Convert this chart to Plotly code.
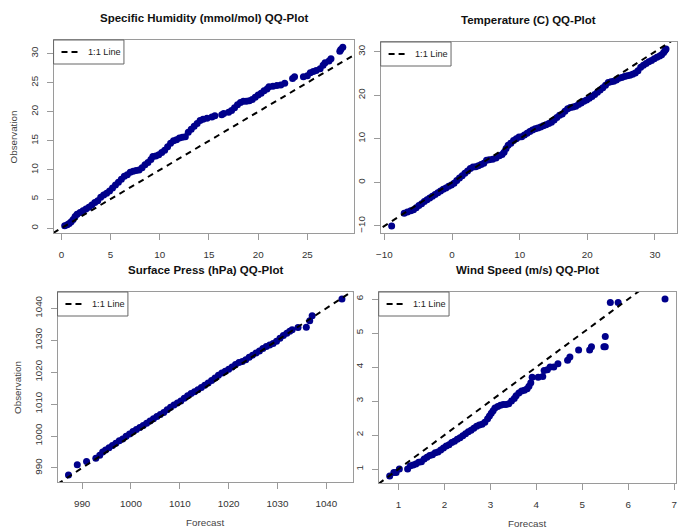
import plotly.graph_objects as go

W, H = 681, 531

# ---------------- data (quantile pairs) ----------------
hum_fc = [0.34, 0.6, 0.8, 1.0, 1.2, 1.4, 1.6, 1.9, 2.2, 2.5, 2.8, 3.1, 3.4, 3.7, 4.0, 4.3, 4.6, 4.9,
          5.2, 5.5, 5.8, 6.1, 6.4, 6.7, 7.0, 7.3, 7.6, 7.9, 8.2, 8.5, 8.8, 9.1, 9.3, 9.6, 9.9, 10.2,
          10.5, 10.8, 11.1, 11.4, 11.7, 12.0, 12.3, 12.6, 12.9, 13.2, 13.5, 13.8, 14.1, 14.4, 14.8,
          15.3, 15.6, 16.3, 16.5, 17.0, 17.3, 17.6, 17.9, 18.2, 18.5, 18.8, 19.1, 19.4, 19.7, 20.0,
          20.3, 20.6, 20.9, 21.1, 21.5, 21.9, 22.3, 22.7, 23.5, 23.7, 24.6, 25.0, 25.3, 25.6, 25.9,
          26.3, 26.6, 26.8, 27.2, 27.4, 28.3, 28.4, 28.6]
hum_ob = [0.4, 0.6, 0.8, 1.1, 1.5, 2.0, 2.4, 2.7, 3.0, 3.3, 3.6, 4.0, 4.4, 4.7, 5.3, 5.7, 6.0, 6.4,
          6.9, 7.4, 7.9, 8.4, 8.9, 9.2, 9.6, 9.8, 9.9, 10.0, 10.4, 10.9, 11.3, 11.8, 12.3, 12.4, 12.6,
          13.0, 13.4, 14.0, 14.6, 15.0, 15.2, 15.5, 15.6, 15.7, 16.5, 17.0, 17.5, 18.0, 18.5, 18.7,
          18.9, 19.1, 19.3, 19.5, 19.7, 19.9, 20.2, 20.7, 21.2, 21.6, 21.8, 21.8, 21.9, 22.1, 22.5,
          22.9, 23.2, 23.6, 23.9, 24.3, 24.4, 24.5, 24.6, 24.9, 25.7, 26.0, 26.0, 26.2, 26.7, 26.9,
          27.1, 27.4, 28.0, 28.4, 28.7, 29.1, 30.4, 30.7, 31.1]

tmp_fc = [-8.93, -7.07, -6.6, -6.1, -5.7, -5.3, -4.9, -4.5, -4.1, -3.7, -3.3, -2.9, -2.5, -2.1, -1.7,
          -1.3, -0.9, -0.5, -0.1, 0.3, 0.7, 1.1, 1.5, 1.9, 2.3, 2.7, 3.1, 3.5, 3.9, 4.3, 4.7, 5.1,
          5.5, 6.0, 6.5, 7.0, 7.4, 7.7, 8.0, 8.3, 8.7, 9.1, 9.5, 9.9, 10.3, 10.7, 11.1, 11.5, 11.9,
          12.3, 12.7, 13.1, 13.5, 13.9, 14.3, 14.7, 15.1, 15.5, 15.9, 16.3, 16.7, 17.1, 17.5, 17.9,
          18.3, 18.7, 19.1, 19.5, 19.9, 20.3, 20.7, 21.1, 21.5, 21.9, 22.3, 22.7, 23.1, 23.5, 23.9,
          24.3, 24.7, 25.1, 25.5, 25.9, 26.3, 26.7, 27.1, 27.5, 27.9, 28.3, 28.7, 29.1, 29.5, 29.9,
          30.3, 30.7, 31.0, 31.3, 31.5, 31.65]
tmp_ob = [-10.0, -7.1, -6.8, -6.5, -6.3, -5.8, -5.3, -4.9, -4.4, -4.0, -3.6, -3.2, -2.8, -2.4, -2.0,
          -1.6, -1.3, -0.9, -0.6, -0.2, 0.4, 1.0, 1.5, 2.1, 2.6, 3.2, 3.5, 3.6, 3.8, 4.1, 4.4, 5.1,
          5.2, 5.3, 5.6, 6.1, 6.4, 6.9, 7.8, 8.5, 9.0, 9.6, 10.0, 10.4, 10.5, 10.9, 11.3, 11.7, 12.0,
          12.3, 12.5, 12.7, 13.0, 13.2, 13.5, 13.8, 14.3, 14.9, 15.4, 15.7, 16.3, 16.9, 17.2, 17.3,
          17.5, 17.9, 18.2, 18.6, 18.9, 19.3, 19.7, 20.2, 20.7, 21.2, 21.7, 22.3, 22.9, 23.1, 23.2,
          23.5, 23.9, 24.1, 24.3, 24.5, 24.6, 24.8, 25.1, 25.6, 26.4, 26.9, 27.3, 27.7, 28.0, 28.4,
          28.7, 29.0, 29.3, 29.8, 30.3, 30.6]

prs_fc = [987.2, 989.0, 990.9, 992.8, 993.6, 994.2, 994.8, 995.5, 996.2, 996.9, 997.6, 998.3, 999.0,
          999.7, 1000.4, 1001.1, 1001.8, 1002.5, 1003.2, 1003.9, 1004.6, 1005.3, 1006.0, 1006.7,
          1007.4, 1008.1, 1008.8, 1009.5, 1010.2, 1010.9, 1011.6, 1012.3, 1013.0, 1013.7, 1014.4,
          1015.1, 1015.8, 1016.5, 1017.2, 1017.9, 1018.6, 1019.3, 1020.0, 1020.7, 1021.4, 1022.1,
          1022.8, 1023.5, 1024.2, 1024.9, 1025.6, 1026.3, 1027.0, 1027.7, 1028.4, 1029.1, 1029.8,
          1030.5, 1031.2, 1031.9, 1032.5, 1033.0, 1034.2, 1035.9, 1036.6, 1037.1, 1043.2]
prs_ob = [987.8, 991.0, 992.0, 993.0, 994.0, 995.0, 995.6, 996.3, 997.0, 997.7, 998.5, 999.1, 999.9,
          1000.6, 1001.4, 1002.0, 1002.7, 1003.3, 1004.0, 1004.7, 1005.4, 1006.1, 1006.7, 1007.4,
          1008.2, 1009.0, 1009.7, 1010.3, 1011.0, 1011.8, 1012.6, 1013.3, 1013.9, 1014.5, 1015.2,
          1015.9, 1016.6, 1017.4, 1018.2, 1019.0, 1019.7, 1020.3, 1020.9, 1021.6, 1022.4, 1023.0,
          1023.3, 1023.9, 1024.7, 1025.3, 1026.0, 1026.6, 1027.4, 1028.0, 1028.5, 1029.0, 1029.7,
          1030.6, 1031.5, 1032.2, 1032.8, 1033.3, 1034.0, 1034.1, 1036.1, 1037.7, 1042.9]

wnd_fc = [0.81, 0.90, 0.95, 1.02, 1.20, 1.26, 1.32, 1.38, 1.44, 1.50, 1.56, 1.62, 1.68, 1.74, 1.80,
          1.86, 1.92, 1.98, 2.04, 2.10, 2.16, 2.22, 2.28, 2.34, 2.40, 2.46, 2.52, 2.58, 2.64, 2.70,
          2.76, 2.82, 2.88, 2.94, 2.98, 3.02, 3.06, 3.10, 3.16, 3.22, 3.28, 3.34, 3.40, 3.46, 3.52,
          3.56, 3.62, 3.68, 3.74, 3.80, 3.84, 3.88, 3.91, 4.04, 4.14, 4.17, 4.24, 4.30, 4.38, 4.47,
          4.68, 4.73, 4.92, 5.16, 5.20, 5.47, 5.50, 5.50, 5.61, 5.78, 6.80]
wnd_ob = [0.80, 0.90, 0.90, 1.00, 1.00, 1.10, 1.12, 1.15, 1.20, 1.22, 1.30, 1.35, 1.40, 1.42, 1.48,
          1.50, 1.56, 1.62, 1.68, 1.72, 1.78, 1.82, 1.88, 1.92, 1.98, 2.04, 2.10, 2.14, 2.20, 2.26,
          2.30, 2.32, 2.38, 2.48, 2.56, 2.64, 2.72, 2.80, 2.84, 2.88, 2.90, 2.90, 2.92, 3.00, 3.08,
          3.16, 3.24, 3.30, 3.32, 3.36, 3.44, 3.54, 3.70, 3.70, 3.72, 3.90, 3.92, 4.00, 4.00, 4.10,
          4.20, 4.30, 4.50, 4.50, 4.60, 4.60, 4.60, 4.90, 5.90, 5.90, 6.00]

titles = ["Specific Humidity (mmol/mol) QQ-Plot", "Temperature (C) QQ-Plot",
          "Surface Press (hPa) QQ-Plot", "Wind Speed (m/s) QQ-Plot"]
tick_steps = [(5, 5), (10, 10), (10, 10), (1, 1)]
xlab = "Forecast"
ylab = "Observation"
legend_label = "1:1 Line"

# ---------------- layout (pixel boxes of plot regions) ----------------
boxes = [(49, 352, 40, 233), (379, 678, 42, 233), (53, 351, 292, 482), (377, 677, 292, 483)]
show_ylab = [True, False, True, False]
show_xlab = [False, False, True, True]

FONT = "Liberation Sans, Arial, Helvetica, sans-serif"
PT_COL = "#00008B"
BOX_COL = "#9a9a9a"

series = [(hum_fc, hum_ob), (tmp_fc, tmp_ob), (prs_fc, prs_ob), (wnd_fc, wnd_ob)]


def rng(v):
    lo, hi = min(v), max(v)
    pad = 0.04 * (hi - lo)
    return [lo - pad, hi + pad]


fig = go.Figure()
layout = dict(width=W, height=H, margin=dict(l=0, r=0, t=0, b=0), autosize=False,
              paper_bgcolor="white", plot_bgcolor="white", showlegend=False,
              font=dict(family=FONT, size=10, color="#333"))
annotations = []
shapes = []

for i, ((fc, ob), (x0, x1, y0, y1)) in enumerate(zip(series, boxes)):
    n = "" if i == 0 else str(i + 1)
    xa, ya = "x" + n, "y" + n
    xr, yr = rng(fc), rng(ob)
    dx, dy = tick_steps[i]
    fig.add_trace(go.Scatter(x=fc, y=ob, mode="markers", xaxis=xa, yaxis=ya,
                             marker=dict(color=PT_COL, size=7, line=dict(width=0)),
                             cliponaxis=False, hoverinfo="skip"))
    lo, hi = min(xr[0], yr[0]), max(xr[1], yr[1])
    fig.add_trace(go.Scatter(x=[lo, hi], y=[lo, hi], mode="lines", xaxis=xa, yaxis=ya,
                             line=dict(color="black", width=2, dash="6px,5px"),
                             hoverinfo="skip"))
    common = dict(showgrid=False, zeroline=False, showline=True, mirror=True,
                  linecolor=BOX_COL, linewidth=1, ticks="outside", ticklen=6,
                  tickcolor=BOX_COL, tickwidth=1, tickmode="linear",
                  tickfont=dict(family=FONT, size=9.8, color="#333"))
    layout["xaxis" + n] = dict(common, domain=[x0 / W, x1 / W], range=xr, dtick=dx, tick0=0,
                               anchor=ya, ticklabelstandoff=6)
    layout["yaxis" + n] = dict(common, domain=[1 - y1 / H, 1 - y0 / H], range=yr, dtick=dy,
                               tick0=0, anchor=xa, tickangle=-90, ticklabelstandoff=5)
    # title
    annotations.append(dict(text="<b>%s</b>" % titles[i], x=(x0 + x1) / 2 / W, y=1 - (y0 - 22) / H,
                            xref="paper", yref="paper", showarrow=False, xanchor="center",
                            yanchor="middle", font=dict(family=FONT, size=11.5, color="#111")))
    if show_ylab[i]:
        annotations.append(dict(text=ylab, x=(x0 - 40) / W, y=1 - (y0 + y1) / 2 / H,
                                xref="paper", yref="paper", showarrow=False, textangle=-90,
                                xanchor="center", yanchor="middle",
                                font=dict(family=FONT, size=9.8, color="#444")))
    if show_xlab[i]:
        annotations.append(dict(text=xlab, x=(x0 + x1) / 2 / W, y=1 - (y1 + 40) / H,
                                xref="paper", yref="paper", showarrow=False,
                                xanchor="center", yanchor="middle",
                                font=dict(family=FONT, size=9.8, color="#444")))
    # legend box
    shapes.append(dict(type="rect", xref="paper", yref="paper", x0=x0 / W, x1=(x0 + 71) / W,
                       y0=1 - y0 / H, y1=1 - (y0 + 24) / H, line=dict(color="#666", width=1),
                       fillcolor="white", layer="above"))
    shapes.append(dict(type="line", xref="paper", yref="paper", x0=(x0 + 8) / W, x1=(x0 + 26) / W,
                       y0=1 - (y0 + 12) / H, y1=1 - (y0 + 12) / H,
                       line=dict(color="black", width=2, dash="6px,4px"), layer="above"))
    annotations.append(dict(text=legend_label, x=(x0 + 33) / W, y=1 - (y0 + 12) / H,
                            xref="paper", yref="paper", showarrow=False, xanchor="left",
                            yanchor="middle", font=dict(family=FONT, size=9.2, color="#222")))

layout["annotations"] = annotations
layout["shapes"] = shapes
fig.update_layout(**layout)
fig.write_html("out.html")
